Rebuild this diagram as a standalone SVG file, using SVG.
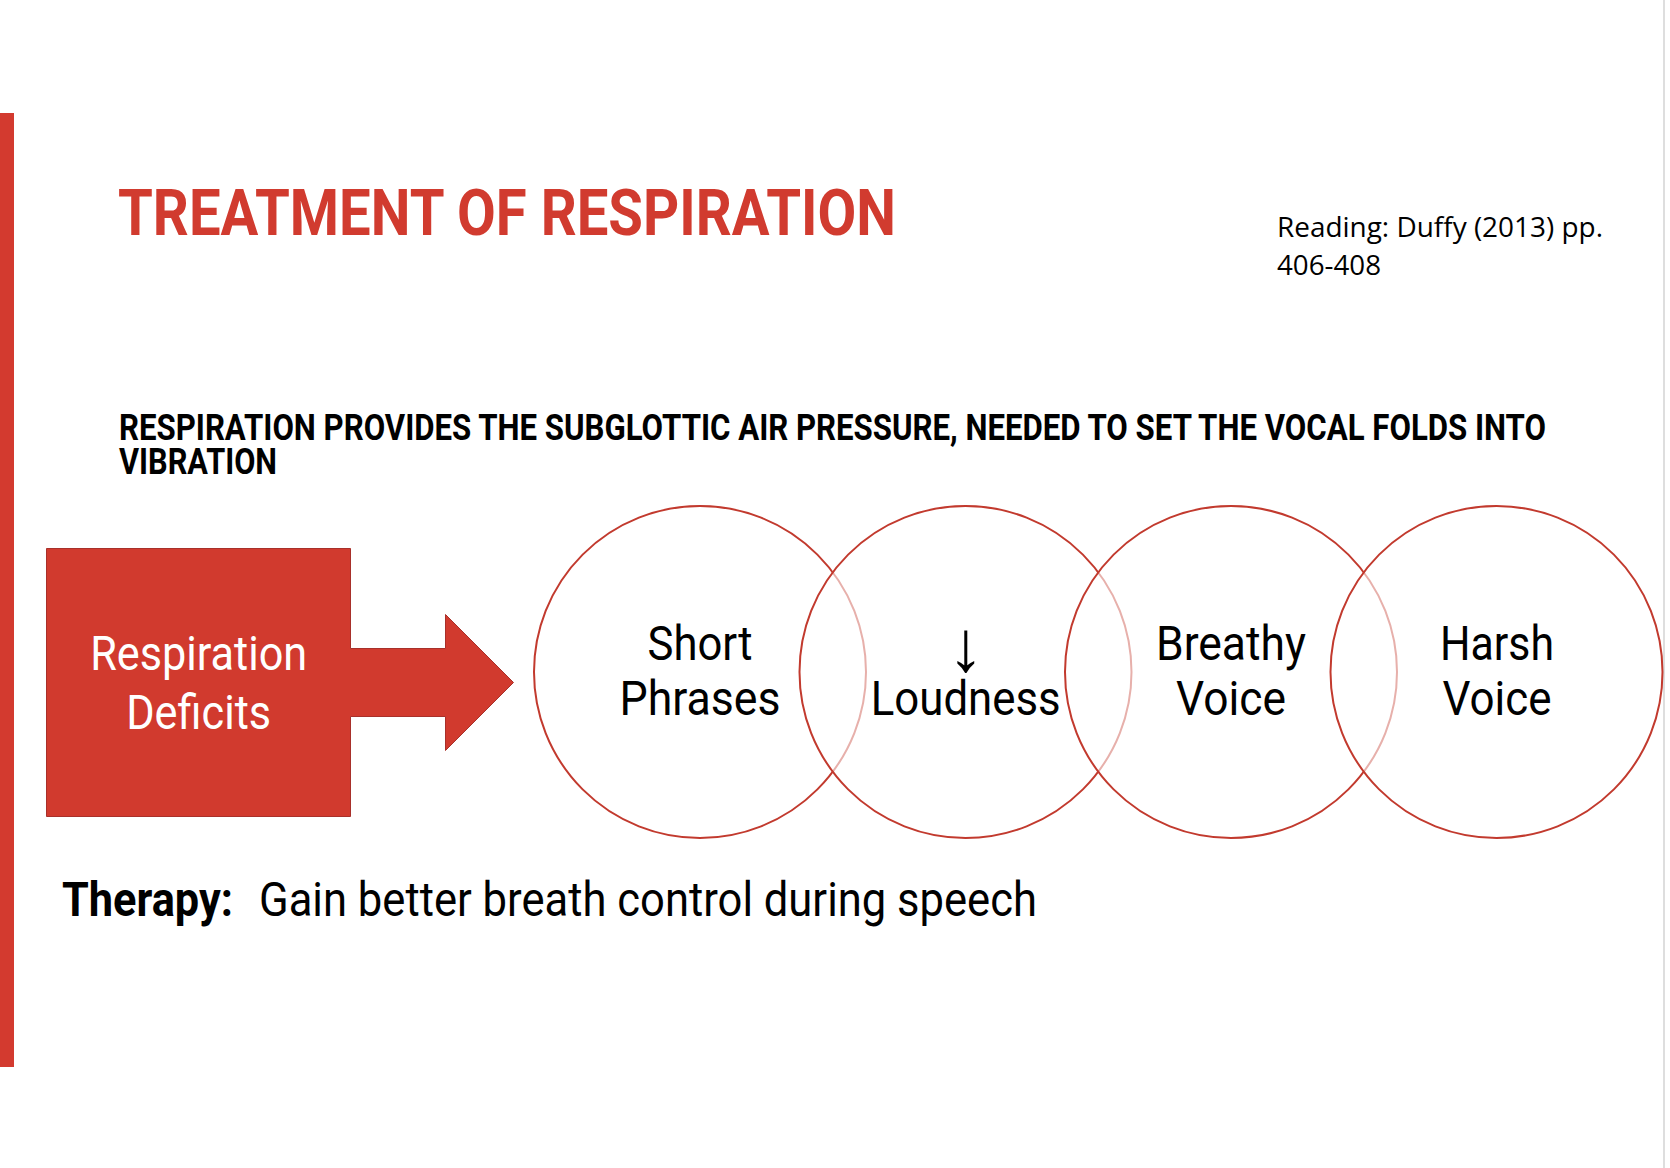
<svg xmlns="http://www.w3.org/2000/svg" width="1670" height="1168" viewBox="0 0 1670 1168">
  <style>
    .cond { font-family: Roboto, "Liberation Sans", sans-serif; }
    .title { font-weight: 700; font-size: 64px; fill: #D13B2F; }
    .sub { font-weight: 700; font-size: 36px; fill: #000; }
    .read { font-family: "Open Sans", "Liberation Sans", sans-serif; font-size: 27px; fill: #000; }
    .lbl { font-size: 49px; fill: #000; text-anchor: middle; }
    .arrow { font-size: 72px; fill: #000; text-anchor: middle; }
    .wlbl { font-size: 49px; fill: #fff; text-anchor: middle; }
    .circ { fill: #fff; fill-opacity: 0.6; stroke: #C23A2E; stroke-width: 2; }
    .ther { font-size: 49px; fill: #000; }
  </style>
  <rect x="0" y="0" width="1670" height="1168" fill="#fff"/>
  <rect x="0" y="113" width="14" height="954" fill="#D33A2F"/>
  <rect x="1663" y="0" width="2" height="1168" fill="#dedede"/>

  <g id="title">
    <text class="cond title" x="118" y="235" textLength="778" lengthAdjust="spacingAndGlyphs">TREATMENT OF RESPIRATION</text>
  </g>
  <g id="reading">
    <text class="read" x="1277" y="237" textLength="326" lengthAdjust="spacingAndGlyphs">Reading: Duffy (2013) pp.</text>
    <text class="read" x="1277" y="275" textLength="104" lengthAdjust="spacingAndGlyphs">406-408</text>
  </g>
  <g id="subtitle">
    <text class="cond sub" x="119" y="440" textLength="1427" lengthAdjust="spacingAndGlyphs">RESPIRATION PROVIDES THE SUBGLOTTIC AIR PRESSURE, NEEDED TO SET THE VOCAL FOLDS INTO</text>
    <text class="cond sub" x="119" y="474" textLength="158" lengthAdjust="spacingAndGlyphs">VIBRATION</text>
  </g>

  <g id="connectors"></g>

  <g id="node-respiration-deficits">
    <path d="M46.5,548.5 H350.5 V648.5 H445.5 V614.5 L513.5,682.5 L445.5,750.5 V716.5 H350.5 V816.5 H46.5 Z" fill="#D13A2E" stroke="#A8302A" stroke-width="1"/>
    <text class="cond wlbl" x="198.7" y="670" textLength="217" lengthAdjust="spacingAndGlyphs">Respiration</text>
    <text class="cond wlbl" x="198.7" y="729" textLength="145" lengthAdjust="spacingAndGlyphs">Deficits</text>
  </g>

  <g id="node-short-phrases">
    <circle class="circ" cx="700" cy="672" r="166"/>
    <text class="cond lbl" x="700" y="660" textLength="105" lengthAdjust="spacingAndGlyphs">Short</text>
    <text class="cond lbl" x="700" y="715" textLength="161" lengthAdjust="spacingAndGlyphs">Phrases</text>
  </g>
  <g id="node-loudness">
    <circle class="circ" cx="965.5" cy="672" r="166"/>
    <text class="cond arrow" x="966" y="671">↓</text>
    <text class="cond lbl" x="965.7" y="715" textLength="190" lengthAdjust="spacingAndGlyphs">Loudness</text>
  </g>
  <g id="node-breathy-voice">
    <circle class="circ" cx="1231" cy="672" r="166"/>
    <text class="cond lbl" x="1231" y="660" textLength="150" lengthAdjust="spacingAndGlyphs">Breathy</text>
    <text class="cond lbl" x="1231" y="715" textLength="110" lengthAdjust="spacingAndGlyphs">Voice</text>
  </g>
  <g id="node-harsh-voice">
    <circle class="circ" cx="1496.5" cy="672" r="166"/>
    <text class="cond lbl" x="1497" y="660" textLength="114" lengthAdjust="spacingAndGlyphs">Harsh</text>
    <text class="cond lbl" x="1497" y="715" textLength="109" lengthAdjust="spacingAndGlyphs">Voice</text>
  </g>

  <g id="therapy">
    <text class="cond ther" x="62" y="916" font-weight="700" textLength="171" lengthAdjust="spacingAndGlyphs">Therapy:</text>
    <text class="cond ther" x="259" y="916" textLength="778" lengthAdjust="spacingAndGlyphs">Gain better breath control during speech</text>
  </g>
</svg>
